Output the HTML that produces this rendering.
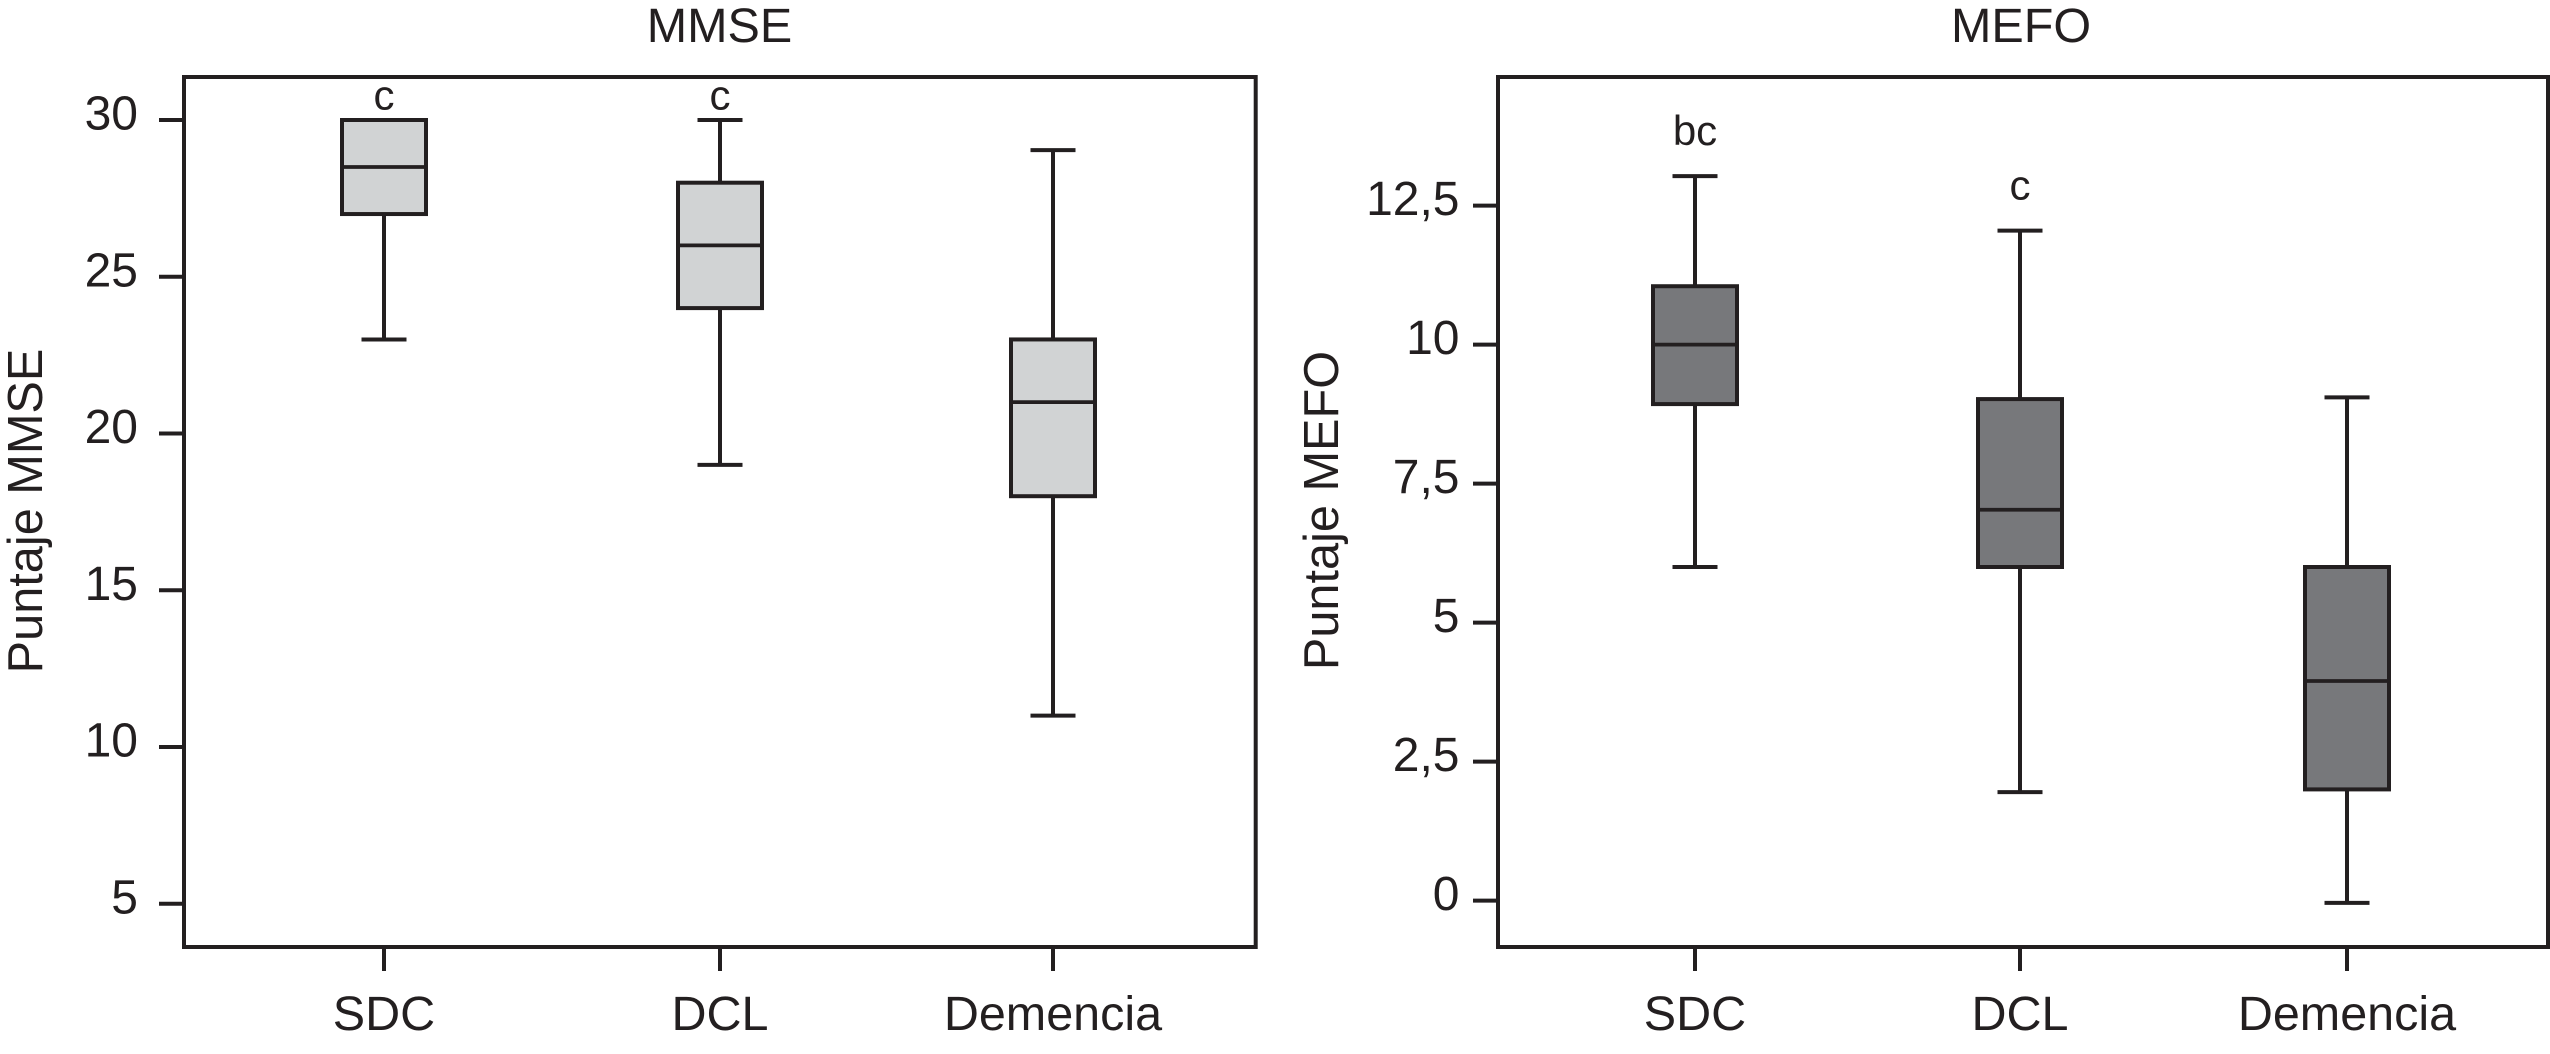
<!DOCTYPE html>
<html lang="es">
<head>
<meta charset="utf-8">
<title>MMSE y MEFO</title>
<style>
html,body{margin:0;padding:0;background:#fff;width:2550px;height:1054px;overflow:hidden}
svg{display:block}
text{font-family:"Liberation Sans",sans-serif;fill:#231f20}
</style>
</head>
<body>
<svg id="chart" width="2550" height="1054" viewBox="0 0 2550 1054" xmlns="http://www.w3.org/2000/svg"></svg>
<script>
const categories = ["SDC", "DCL", "Demencia"];

const mmseTickValues = [5, 10, 15, 20, 25, 30];
const mmseTickLabels = ["5", "10", "15", "20", "25", "30"];
const mmseWhiskerLow = [23, 19, 11];
const mmseQ1 = [27, 24, 18];
const mmseMedian = [28.5, 26, 21];
const mmseQ3 = [30, 28, 23];
const mmseWhiskerHigh = [30, 30, 29.04];
const mmseLetters = ["c", "c", ""];

const mefoTickValues = [0, 2.5, 5, 7.5, 10, 12.5];
const mefoTickLabels = ["0", "2,5", "5", "7,5", "10", "12,5"];
const mefoWhiskerLow = [6, 1.95, -0.04];
const mefoQ1 = [8.93, 6, 2];
const mefoMedian = [10, 7.03, 3.95];
const mefoQ3 = [11.05, 9.02, 6];
const mefoWhiskerHigh = [13.03, 12.05, 9.05];
const mefoLetters = ["bc", "c", ""];

const INK = "#231f20";
const NS = "http://www.w3.org/2000/svg";
const svg = document.getElementById("chart");

function make(parent, tag, attrs, text) {
  const el = document.createElementNS(NS, tag);
  for (const k in attrs) el.setAttribute(k, attrs[k]);
  if (text !== undefined) el.textContent = text;
  parent.appendChild(el);
  return el;
}

function drawPanel(p) {
  const y = v => p.y0 - (v - p.v0) * p.pxPerUnit;
  const x = i => p.xStart + i * p.xStep + (i === 1 ? p.midNudge : 0);

  const g = make(svg, "g", {});
  
  

  const title = make(g, "text", {x: p.titleX, y: 42, "font-size": 48.5, "text-anchor": "middle"}, p.title);
  
  

  const yTitle = make(g, "text", {
    transform: "translate(" + p.yTitleX + " " + p.yTitleY + ") rotate(-90)",
    "font-size": 48.7, "text-anchor": "middle"
  }, p.yTitle);
  
  

  const frame = make(g, "rect", {
    x: p.left, y: 77, width: p.right - p.left, height: 870,
    fill: "none", stroke: INK, "stroke-width": 4
  });
  
  

  p.tickValues.forEach((v, i) => {
    const tick = make(g, "line", {
      x1: p.left - 25, x2: p.left, y1: y(v), y2: y(v),
      stroke: INK, "stroke-width": 4
    });
    
    
    const label = make(g, "text", {
      x: p.tickLabelX, y: y(v) + 9.5, "font-size": 48, "text-anchor": "end"
    }, p.tickLabels[i]);
    
    
  });

  categories.forEach((cat, i) => {
    const cx = x(i);
    const tick = make(g, "line", {
      x1: cx, x2: cx, y1: 947, y2: 971, stroke: INK, "stroke-width": 4
    });
    
    
    const label = make(g, "text", {
      x: cx, y: 1030, "font-size": 48.5, "text-anchor": "middle"
    }, cat);
    
    

    const bg = make(g, "g", {});
    
    

    const whisker = make(bg, "line", {
      x1: cx, x2: cx, y1: y(p.high[i]), y2: y(p.low[i]),
      stroke: INK, "stroke-width": 4
    });
    
    

    [p.high[i], p.low[i]].forEach(v => {
      const cap = make(bg, "line", {
        x1: cx - 22.5, x2: cx + 22.5, y1: y(v), y2: y(v),
        stroke: INK, "stroke-width": 4
      });
      
      
    });

    const box = make(bg, "rect", {
      x: cx - 42, y: y(p.q3[i]), width: 84, height: y(p.q1[i]) - y(p.q3[i]),
      fill: p.fill, stroke: INK, "stroke-width": 4
    });
    
    

    const median = make(bg, "line", {
      x1: cx - 42, x2: cx + 42, y1: y(p.median[i]), y2: y(p.median[i]),
      stroke: INK, "stroke-width": 3.7
    });
    
    

    if (p.letters[i]) {
      const note = make(g, "text", {
        x: cx, y: y(p.high[i]) - p.letterGap, "font-size": 42, "text-anchor": "middle"
      }, p.letters[i]);
      
      
    }
  });
}

drawPanel({
  key: "mmse", title: "MMSE", yTitle: "Puntaje MMSE",
  titleX: 719.5, yTitleX: 42, yTitleY: 511,
  left: 184, right: 1255.7, tickLabelX: 138,
  xStart: 384, xStep: 334.5, midNudge: 1.5,
  v0: 30, y0: 120, pxPerUnit: 31.35,
  fill: "#d1d3d4",
  tickValues: mmseTickValues, tickLabels: mmseTickLabels,
  low: mmseWhiskerLow, q1: mmseQ1, median: mmseMedian, q3: mmseQ3, high: mmseWhiskerHigh,
  letters: mmseLetters, letterGap: 10.5
});

drawPanel({
  key: "mefo", title: "MEFO", yTitle: "Puntaje MEFO",
  titleX: 2021, yTitleX: 1338, yTitleY: 510.5,
  left: 1498, right: 2548, tickLabelX: 1459.5,
  xStart: 1695, xStep: 326, midNudge: -1,
  v0: 0, y0: 900.6, pxPerUnit: 55.6,
  fill: "#77787b",
  tickValues: mefoTickValues, tickLabels: mefoTickLabels,
  low: mefoWhiskerLow, q1: mefoQ1, median: mefoMedian, q3: mefoQ3, high: mefoWhiskerHigh,
  letters: mefoLetters, letterGap: 31
});
</script>
</body>
</html>
